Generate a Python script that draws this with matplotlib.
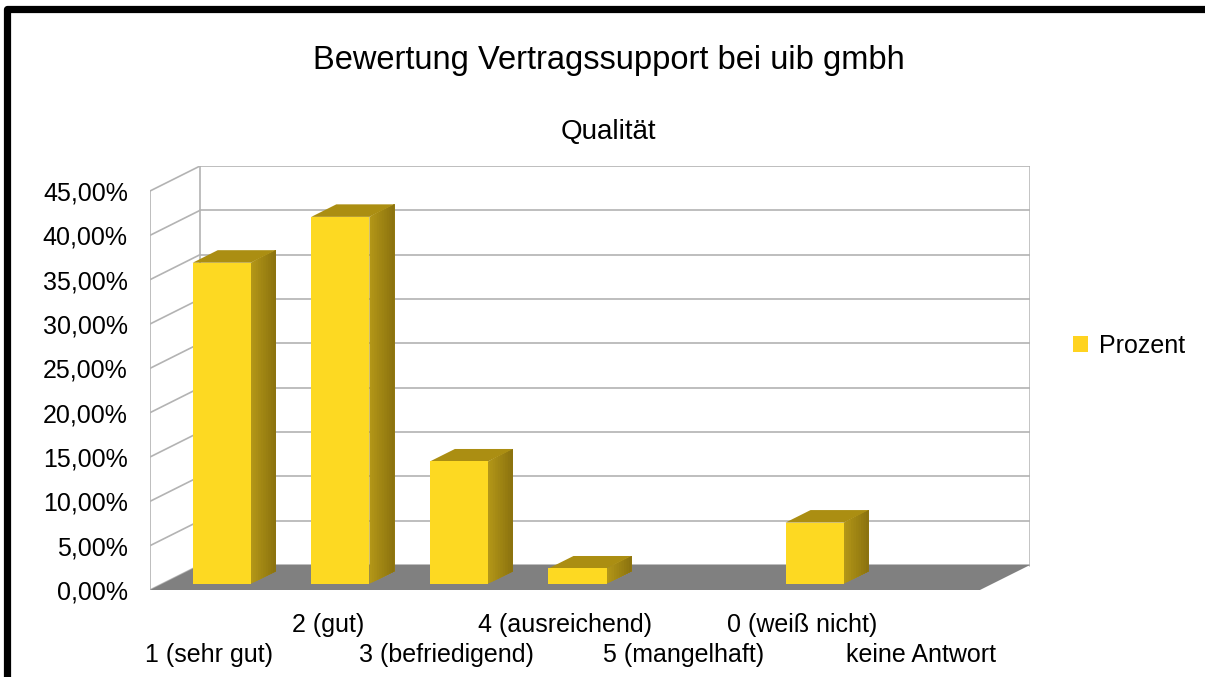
import matplotlib
matplotlib.use('Agg')
import matplotlib.pyplot as plt
import numpy as np
from matplotlib.patches import Polygon, Rectangle, Patch
from matplotlib.colors import to_rgb

plt.rcParams['font.family'] = ['Liberation Sans', 'DejaVu Sans']

# Data
categories = ['1 (sehr gut)', '2 (gut)', '3 (befriedigend)', '4 (ausreichend)',
              '5 (mangelhaft)', '0 (weiß nicht)', 'keine Antwort']
prozent = [36.21, 41.38, 13.79, 1.72, 0.0, 6.90, 0.0]
y_ticks = [0, 5, 10, 15, 20, 25, 30, 35, 40, 45]
series_name = 'Prozent'

# 3D look: depth offset of the back wall in data units
DX = 0.422
DY = 2.82
bar_w = 0.49
d0, d1 = 0.25, 0.75  # bar depth range (fraction of floor depth)

front_col = '#fdd922'
side_light = np.array(to_rgb('#b49818'))
side_dark = np.array(to_rgb('#8a710e'))
top_col = '#ab8e12'
grid_col = '#b3b3b3'
floor_col = '#808080'

fig = plt.figure(figsize=(12.05, 6.77), dpi=100)
W, H = 1205, 677
ax_h = 590 - 166
ax = fig.add_axes([150 / W, (H - 590) / H, (1030 - 150) / W, ax_h / H])
n = len(categories)
x0, x1 = -0.5, n - 0.5
ymax = y_ticks[-1]
ax.set_xlim(x0, x1 + DX)
ax.set_ylim(0, ymax + DY)
for s in ax.spines.values():
    s.set_visible(False)

# walls and grid
for v in y_ticks:
    ax.plot([x0 + DX, x1 + DX], [v + DY, v + DY], color=grid_col, lw=1.2, zorder=1)
    ax.plot([x0, x0 + DX], [v, v + DY], color=grid_col, lw=1.2, zorder=1)
ax.plot([x0, x0], [0, ymax], color=grid_col, lw=1.2, zorder=1)
ax.plot([x0 + DX, x0 + DX], [DY, ymax + DY], color=grid_col, lw=1.2, zorder=1)
ax.plot([x1 + DX, x1 + DX], [DY, ymax + DY], color=grid_col, lw=1.8, zorder=1)

# floor
ax.add_patch(Polygon([(x0, 0), (x0 + DX, DY), (x1 + DX, DY), (x1, 0)],
                     closed=True, facecolor=floor_col, edgecolor='none', zorder=2))

# bars
xs = list(range(n))
fx = [x + d0 * DX for x in xs]
ax.bar(fx, prozent, width=bar_w, bottom=d0 * DY, color=front_col,
       edgecolor='none', linewidth=0, zorder=4, label=series_name)
ddx = (d1 - d0) * DX
ddy = (d1 - d0) * DY
n_strips = 10
for x, v in zip(fx, prozent):
    if v <= 0:
        continue
    l, r = x - bar_w / 2, x + bar_w / 2
    b, t = d0 * DY, d0 * DY + v
    # side face shaded light -> dark; each strip runs to the back edge so
    # the next one covers it (no anti-alias seams)
    for k in range(n_strips):
        f0 = k / n_strips
        col = side_light + (side_dark - side_light) * (k + 0.5) / n_strips
        ax.add_patch(Polygon([(r + f0 * ddx, b + f0 * ddy), (r + ddx, b + ddy),
                              (r + ddx, t + ddy), (r + f0 * ddx, t + f0 * ddy)],
                             closed=True, facecolor=col, edgecolor='none', zorder=3))
    ax.add_patch(Polygon([(l, t), (l + ddx, t + ddy), (r + ddx, t + ddy), (r, t)],
                         closed=True, facecolor=top_col, edgecolor='none', zorder=3))

# y ticks (front plane)
ax.set_yticks(y_ticks)
ax.set_yticklabels([f'{v:.2f}%'.replace('.', ',') for v in y_ticks], fontsize=18)
ax.tick_params(axis='y', length=0, pad=16)

# x labels, staggered in two rows
ax.set_xticks(xs)
ax.set_xticklabels([])
ax.tick_params(axis='x', length=0)
for i, c in enumerate(categories):
    row_y = -65 / ax_h if i % 2 == 0 else -35 / ax_h
    ax.text(i, row_y, c, transform=ax.get_xaxis_transform(),
            ha='center', va='center', fontsize=18)

# titles
fig.text(0.5 + 6 / W, 1 - 60 / H, 'Bewertung Vertragssupport bei uib gmbh',
         ha='center', va='center', fontsize=23.5)
fig.text(0.5 + 6 / W, 1 - 132 / H, 'Qualität', ha='center', va='center', fontsize=20)

# legend
fig.legend(handles=[Patch(facecolor='#ffd320', edgecolor='none', label=series_name)],
           loc='center left', bbox_to_anchor=(1073 / W, 1 - 346 / H),
           frameon=False, fontsize=18, handlelength=0.6, handleheight=0.6,
           handletextpad=0.45, borderpad=0, borderaxespad=0)

# black frame (extends past the right and bottom edges)
fig.patches.append(Rectangle((6.5 / W, -0.1), 1.2, 1.1 - 8.5 / H,
                             transform=fig.transFigure, fill=False,
                             edgecolor='black', linewidth=5.2, joinstyle='round'))

fig.savefig('out.png', dpi=100, facecolor='white')
